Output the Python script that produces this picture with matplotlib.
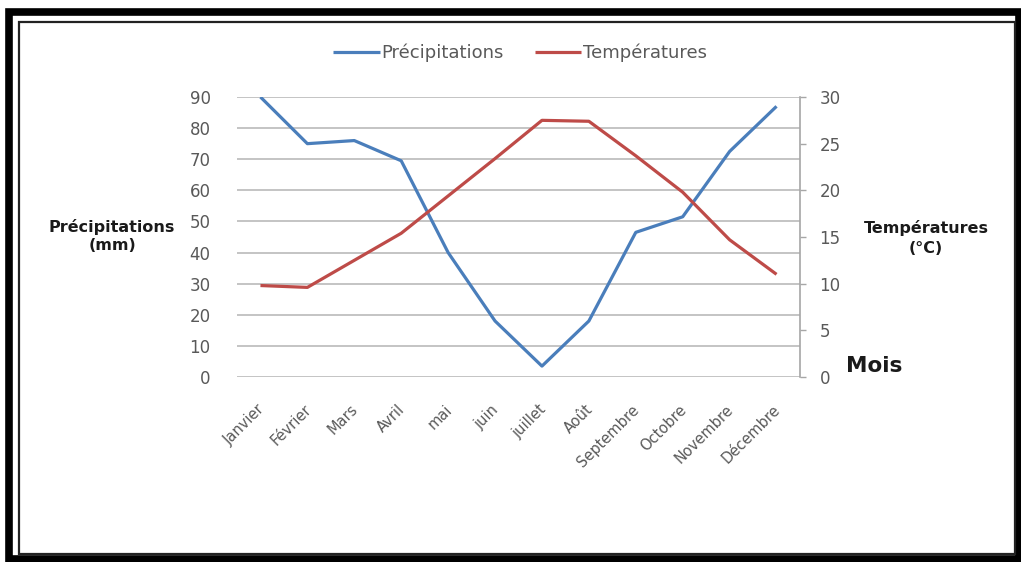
import numpy as np
import matplotlib
matplotlib.use("Agg")
import matplotlib.pyplot as plt
import matplotlib.transforms as mtransforms
from matplotlib.patches import Rectangle

plt.rcParams['font.family'] = ['DejaVu Sans']

# ------------------------------------------------------------------
# DATA
# ------------------------------------------------------------------
mois = ['Janvier', 'Février', 'Mars', 'Avril', 'mai', 'juin', 'juillet',
        'Août', 'Septembre', 'Octobre', 'Novembre', 'Décembre']
precipitations = [90, 75, 76, 69.5, 40, 18, 3.5, 18, 46.5, 51.5, 72.5, 87]
temperatures = [9.8, 9.6, 12.5, 15.4, 19.4, 23.4, 27.5, 27.4, 23.7, 19.8, 14.7, 11.0]

left_ticks = list(range(0, 91, 10))
right_ticks = list(range(0, 31, 5))

BLUE = '#4A7EBB'
RED = '#BE4B48'
TXT = '#595959'
GRID = '#BFBFBF'

W, H = 1021, 562
fig = plt.figure(figsize=(W / 100, H / 100), dpi=100)

def px(x, y):
    # pixel coords (top-left origin) -> figure fraction
    return x / W, 1 - y / H

# ------------------------------------------------------------------
# AXES
# ------------------------------------------------------------------
x0, y_top = px(237, 97)
x1, y_bot = px(800, 377)
ax = fig.add_axes([x0, y_bot, x1 - x0, y_top - y_bot])
ax2 = ax.twinx()

x = np.arange(len(mois))
l1, = ax.plot(x, precipitations, color=BLUE, lw=2.3, solid_capstyle='butt', zorder=3)
l2, = ax2.plot(x, temperatures, color=RED, lw=2.3, solid_capstyle='butt', zorder=3)

ax.set_xlim(-0.5, len(mois) - 0.5)
ax.set_ylim(0, 90)
ax2.set_ylim(0, 30)

ax.set_yticks(left_ticks)
ax2.set_yticks(right_ticks)
ax.set_xticks(x)
ax.set_xticklabels(mois, rotation=45, ha='right', va='top',
                   rotation_mode='anchor', fontsize=10.5, color=TXT)
ax.tick_params(axis='x', length=0, pad=18)
ax.tick_params(axis='y', length=0, pad=19, labelsize=12, labelcolor=TXT)
ax2.tick_params(axis='y', length=4, width=1, color='#A6A6A6', pad=10,
                labelsize=12, labelcolor=TXT, direction='out')

# nudge month labels a bit to the left
shift = mtransforms.ScaledTranslation(-4 / 100, 0, fig.dpi_scale_trans)
for lab in ax.get_xticklabels():
    lab.set_transform(lab.get_transform() + shift)

ax.grid(axis='y', color=GRID, lw=1.3)
ax.set_axisbelow(True)
for s in ['top', 'left', 'bottom', 'right']:
    ax.spines[s].set_visible(False)
for s in ['top', 'left', 'bottom']:
    ax2.spines[s].set_visible(False)
ax2.spines['right'].set_color('#A6A6A6')
ax2.spines['right'].set_linewidth(1.2)

# axis titles
fig.text(*px(112, 236), 'Précipitations\n(mm)', ha='center', va='center',
         fontsize=11.5, fontweight='bold', color='#1a1a1a', linespacing=1.25)
fig.text(*px(926, 238), 'Températures\n(°C)', ha='center', va='center',
         fontsize=11.5, fontweight='bold', color='#1a1a1a', linespacing=1.35)
fig.text(*px(874, 366), 'Mois', ha='center', va='center',
         fontsize=15.5, fontweight='bold', color='#1a1a1a')

# legend
fig.legend([l1, l2], ['Précipitations', 'Températures'], loc='center',
           bbox_to_anchor=px(520, 53), ncol=2, frameon=False, fontsize=13,
           handlelength=2.6, handletextpad=0.1, columnspacing=1.7,
           labelcolor=TXT)

# ------------------------------------------------------------------
# FRAME
# ------------------------------------------------------------------
ox0, oy1 = px(9, 12)
ox1, oy0 = px(1019, 559)
fig.patches.append(Rectangle((ox0, oy0), ox1 - ox0, oy1 - oy0, transform=fig.transFigure,
                             fill=False, edgecolor='black', lw=5.5, zorder=10))
ix0, iy1 = px(18.5, 21.5)
ix1, iy0 = px(1015, 553.5)
fig.patches.append(Rectangle((ix0, iy0), ix1 - ix0, iy1 - iy0, transform=fig.transFigure,
                             fill=False, edgecolor='#222222', lw=1.6, zorder=10))

fig.savefig('out.png', dpi=100, facecolor='white')
